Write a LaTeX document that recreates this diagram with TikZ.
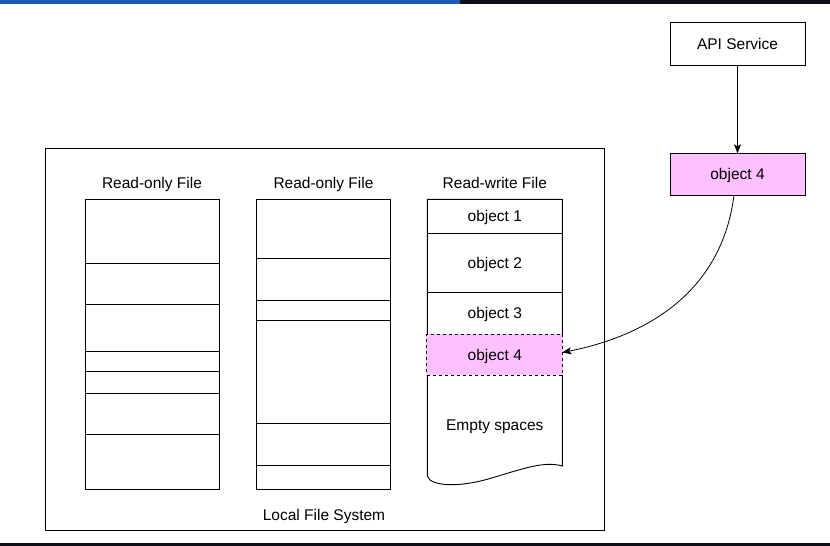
\documentclass[tikz,border=0pt]{standalone}
\usepackage{fontspec}
\setmainfont{Liberation Sans}
\usetikzlibrary{arrows.meta}
\definecolor{topblue}{HTML}{1F5AB4}
\definecolor{topdark}{HTML}{0D1117}
\definecolor{pinkfill}{HTML}{FFC0FF}
\begin{document}
\begin{tikzpicture}[x=1pt,y=-1pt,
  line width=0.9pt,
  txt/.style={font=\fontsize{15.5}{18}\selectfont, inner sep=0pt, text depth=0pt},
  box/.style={draw, inner sep=0pt, outer sep=0pt, text depth=0pt, font=\fontsize{15.5}{18}\selectfont},
  arr/.style={-{Stealth[length=9pt,width=7pt,inset=2pt]}}
]
\useasboundingbox (0,0) rectangle (830,546);
% top and bottom rules
\fill[topblue] (0,0) rectangle (460,4);
\fill[topdark] (460,0) rectangle (830,4);
\fill[topdark] (0,543) rectangle (830,546);

% outer container
\node[box, minimum width=559.5pt, minimum height=382pt] (lfs) at (324.75,339) {};
\node[txt] (lfslabel) at (324,515) {Local File System};

% column 1
\node[txt] (t1) at (152,183) {Read-only File};
\node[box, minimum width=134pt, minimum height=290pt] (c1) at (152,344.3) {};
\foreach \yy in {263.3,304.7,351.3,371.7,393.3,434.3} \draw (85,\yy) -- (219,\yy);

% column 2
\node[txt] (t2) at (323.5,183) {Read-only File};
\node[box, minimum width=133.6pt, minimum height=290pt] (c2) at (323.5,344.3) {};
\foreach \yy in {258.3,300,320.3,423.3,465} \draw (256.7,\yy) -- (390.3,\yy);

% column 3 (document shape)
\node[txt] (t3) at (494.8,183) {Read-write File};
\draw (427.3,476) -- (427.3,199.3) -- (562.3,199.3) -- (562.3,466)
  .. controls (545,461) and (525,468) .. (495,477)
  .. controls (470,485) and (442,488) .. (430,480)
  -- (427.3,476) -- cycle;
\draw (427.3,233.3) -- (562.3,233.3);
\draw (427.3,292.3) -- (562.3,292.3);
\node[txt] (ob1) at (494.8,216) {object 1};
\node[txt] (ob2) at (494.8,263) {object 2};
\node[txt] (ob3) at (494.8,313) {object 3};
\node[box, dashed, fill=pinkfill, minimum width=136pt, minimum height=41pt] (o4) at (494.8,354.5) {object 4};
\node[txt] (empty) at (494.8,425) {Empty spaces};

% right side
\node[box, minimum width=135pt, minimum height=43pt] (api) at (737.5,44.2) {API Service};
\node[box, fill=pinkfill, minimum width=135pt, minimum height=41.7pt] (o4top) at (737.5,174.2) {object 4};

\draw[arr] (api) -- (o4top);
\draw[arr, line width=0.8pt] ([xshift=-3.5pt]o4top.south) .. controls (722,290) and (650,335) .. ([yshift=2pt,xshift=-0.5pt]o4.east);
\end{tikzpicture}
\end{document}
